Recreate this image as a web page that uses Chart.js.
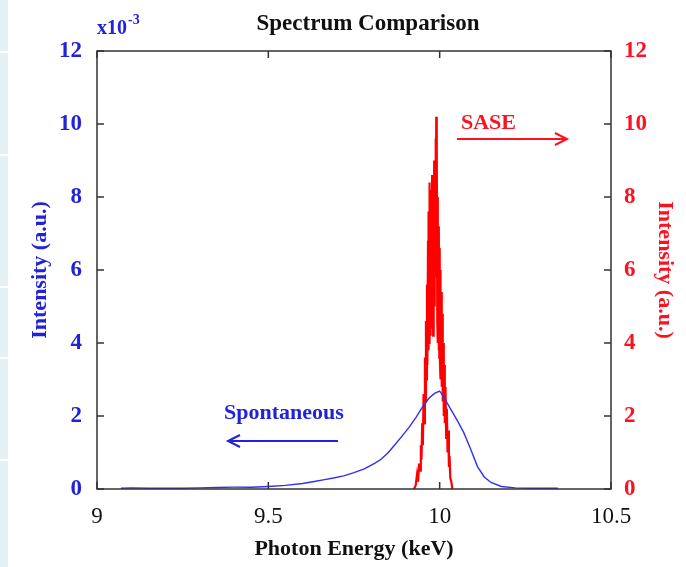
<!DOCTYPE html>
<html>
<head>
<meta charset="utf-8">
<script src="https://cdn.jsdelivr.net/npm/chart.js@4"></script>
<style>
html,body{margin:0;padding:0;background:#fff;}
#wrap{position:relative;width:686px;height:567px;}
</style>
</head>
<body>
<div id="wrap"><canvas id="c" width="686" height="567"></canvas></div>
<script>
// ---- data ----
const spontEnergy = [9.07,9.10,9.15,9.20,9.25,9.30,9.35,9.40,9.45,9.50,9.55,9.60,9.63,9.66,9.69,9.72,9.75,9.78,9.81,9.83,9.85,9.87,9.89,9.91,9.93,9.95,9.97,9.985,10.00,10.01,10.03,10.05,10.07,10.09,10.11,10.13,10.15,10.18,10.22,10.27,10.345];
const spontIntensity = [0.02,0.03,0.02,0.02,0.02,0.03,0.04,0.05,0.05,0.07,0.10,0.15,0.20,0.25,0.30,0.36,0.45,0.55,0.70,0.82,1.00,1.22,1.45,1.68,1.95,2.25,2.50,2.62,2.68,2.55,2.22,1.90,1.55,1.10,0.62,0.33,0.18,0.07,0.03,0.02,0.02];

const saseEnergy = [9.925,9.930,9.934,9.937,9.940,9.943,9.945,9.947,9.949,9.951,9.953,9.955,9.957,9.958,9.960,9.961,9.963,9.964,9.966,9.967,9.968,9.969,9.970,9.971,9.972,9.973,9.974,9.975,9.976,9.977,9.978,9.979,9.980,9.981,9.982,9.983,9.984,9.985,9.986,9.987,9.988,9.989,9.990,9.991,9.992,9.993,9.994,9.995,9.996,9.997,9.998,9.999,10.000,10.001,10.002,10.003,10.005,10.006,10.008,10.009,10.011,10.012,10.014,10.015,10.017,10.019,10.021,10.023,10.025,10.027,10.029,10.031,10.034,10.037];
const saseIntensity = [0,0.1,0.4,0.2,0.7,0.5,1.2,0.8,1.8,1.2,2.6,1.8,3.6,2.4,4.6,3.0,5.6,3.4,6.8,3.8,7.6,4.0,8.4,4.6,8.2,4.2,7.4,5.0,8.2,4.4,8.6,5.2,7.6,4.2,8.4,5.4,9.0,5.0,8.8,6.0,9.6,5.8,10.2,6.4,9.4,4.6,8.0,4.0,7.0,3.8,7.2,3.6,6.6,3.4,6.0,3.0,5.4,2.8,4.8,2.4,4.0,2.0,3.4,1.8,2.8,1.4,2.2,1.0,1.6,0.6,0.9,0.3,0.2,0];

const xTicks = [9, 9.5, 10, 10.5];
const xTickLabels = ['9', '9.5', '10', '10.5'];
const yTicks = [0, 2, 4, 6, 8, 10, 12];
const yTickLabels = ['0', '2', '4', '6', '8', '10', '12'];

const BLUE = '#2222d6';
const BLUE_LINE = '#3030f0';
const RED = '#ff1020';
const SERIF = '"Liberation Serif", "Times New Roman", serif';

const toPts = (xs, ys) => xs.map((x, i) => ({x: x, y: ys[i]}));

const decor = {
  id: 'decor',
  beforeDraw(chart) {
    const ctx = chart.ctx;
    ctx.save();
    ctx.fillStyle = '#e3f0f4';
    ctx.fillRect(0, 0, 8, 567);
    ctx.fillStyle = '#ffffff';
    [52, 155, 287, 358, 460].forEach(y => ctx.fillRect(0, y - 1, 8, 2));
    ctx.restore();
  },
  afterDraw(chart) {
    const ctx = chart.ctx;
    const a = chart.chartArea;
    const sx = chart.scales.x, sy = chart.scales.y, sy1 = chart.scales.y1;
    ctx.save();
    // frame
    ctx.strokeStyle = '#333';
    ctx.lineWidth = 1.5;
    ctx.strokeRect(a.left, a.top, a.right - a.left, a.bottom - a.top);
    // inward ticks
    const TL = 7;
    ctx.beginPath();
    xTicks.forEach(v => {
      const px = sx.getPixelForValue(v);
      ctx.moveTo(px, a.bottom); ctx.lineTo(px, a.bottom - TL);
      ctx.moveTo(px, a.top); ctx.lineTo(px, a.top + TL);
    });
    yTicks.forEach(v => {
      const py = sy.getPixelForValue(v);
      ctx.moveTo(a.left, py); ctx.lineTo(a.left + TL, py);
      const py1 = sy1.getPixelForValue(v);
      ctx.moveTo(a.right, py1); ctx.lineTo(a.right - TL, py1);
    });
    ctx.stroke();

    // title
    ctx.fillStyle = '#111';
    ctx.font = 'bold 23px ' + SERIF;
    ctx.textAlign = 'center';
    ctx.textBaseline = 'alphabetic';
    ctx.fillText('Spectrum Comparison', 368, 30);

    // x10^-3
    ctx.fillStyle = BLUE;
    ctx.textAlign = 'left';
    ctx.font = 'bold 20px ' + SERIF;
    ctx.fillText('x10', 97, 34);
    const w = ctx.measureText('x10').width;
    ctx.font = 'bold 14px ' + SERIF;
    ctx.fillText('-3', 97 + w + 1, 24);

    // SASE annotation
    ctx.fillStyle = RED;
    ctx.font = 'bold 22px ' + SERIF;
    ctx.fillText('SASE', 461, 129);
    ctx.strokeStyle = RED;
    ctx.lineWidth = 2;
    ctx.beginPath();
    ctx.moveTo(457, 139); ctx.lineTo(567, 139);
    ctx.moveTo(555, 133); ctx.lineTo(567, 139); ctx.lineTo(555, 145);
    ctx.stroke();

    // Spontaneous annotation
    ctx.fillStyle = BLUE;
    ctx.font = 'bold 22px ' + SERIF;
    ctx.fillText('Spontaneous', 224, 419);
    ctx.strokeStyle = BLUE;
    ctx.lineWidth = 2;
    ctx.beginPath();
    ctx.moveTo(338, 441); ctx.lineTo(228, 441);
    ctx.moveTo(240, 435); ctx.lineTo(228, 441); ctx.lineTo(240, 447);
    ctx.stroke();
    ctx.restore();
  }
};

new Chart(document.getElementById('c'), {
  type: 'line',
  data: {
    datasets: [
      {
        label: 'Spontaneous',
        data: toPts(spontEnergy, spontIntensity),
        yAxisID: 'y',
        borderColor: BLUE_LINE,
        borderWidth: 1.4,
        pointRadius: 0,
        tension: 0
      },
      {
        label: 'SASE',
        data: toPts(saseEnergy, saseIntensity),
        yAxisID: 'y1',
        borderColor: '#ff0000',
        borderWidth: 2.2,
        pointRadius: 0,
        tension: 0
      }
    ]
  },
  plugins: [decor],
  options: {
    responsive: false,
    animation: false,
    devicePixelRatio: 1,
    layout: {padding: {top: 51, left: 0, right: 0, bottom: 0}},
    plugins: {legend: {display: false}, tooltip: {enabled: false}, title: {display: false}},
    scales: {
      x: {
        type: 'linear', min: 9, max: 10.5,
        grid: {display: false, drawTicks: false},
        border: {display: false},
        afterBuildTicks: s => { s.ticks = xTicks.map(v => ({value: v})); },
        afterFit: s => { s.height = 78; },
        ticks: {
          color: '#111', padding: 14,
          font: {family: SERIF, size: 23},
          callback: v => xTickLabels[xTicks.indexOf(v)]
        },
        title: {display: true, text: 'Photon Energy (keV)', color: '#111',
          font: {family: SERIF, size: 22, weight: 'bold'}, padding: {top: 0, bottom: 4}}
      },
      y: {
        type: 'linear', position: 'left', min: 0, max: 12,
        grid: {display: false, drawTicks: false},
        border: {display: false},
        afterBuildTicks: s => { s.ticks = yTicks.map(v => ({value: v})); },
        afterFit: s => { s.width = 97; },
        ticks: {
          color: BLUE, padding: 15,
          font: {family: SERIF, size: 23, weight: 'bold'},
          callback: v => yTickLabels[yTicks.indexOf(v)]
        },
        title: {display: true, text: 'Intensity (a.u.)', color: BLUE,
          font: {family: SERIF, size: 22, weight: 'bold'}, padding: {top: 27, bottom: 0}}
      },
      y1: {
        type: 'linear', position: 'right', min: 0, max: 12,
        grid: {display: false, drawTicks: false},
        border: {display: false},
        afterBuildTicks: s => { s.ticks = yTicks.map(v => ({value: v})); },
        afterFit: s => { s.width = 75; },
        ticks: {
          color: RED, padding: 13,
          font: {family: SERIF, size: 23, weight: 'bold'},
          callback: v => yTickLabels[yTicks.indexOf(v)]
        },
        title: {display: true, text: 'Intensity (a.u.)', color: RED,
          font: {family: SERIF, size: 22, weight: 'bold'}, padding: {top: 8, bottom: 0}}
      }
    }
  }
});
</script>
</body>
</html>
